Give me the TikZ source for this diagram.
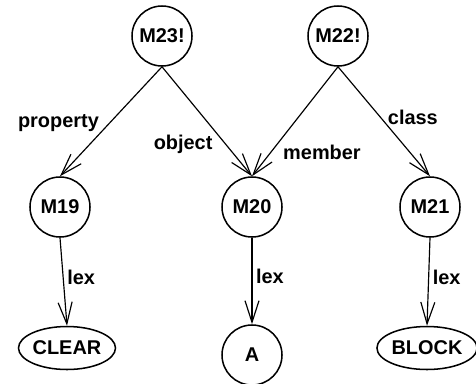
\documentclass[tikz,border=0pt]{standalone}
\usepackage{fontspec}
\setmainfont{Liberation Sans}
\usetikzlibrary{arrows.meta,shapes.geometric}

\tikzset{
  molnode/.style={circle,draw,line width=1.3pt,minimum size=1.8cm,inner sep=0pt},
  basenode/.style={ellipse,draw,line width=1.3pt,minimum height=1.29cm,inner sep=0pt},
  arc/.style={line width=1pt,-{Straight Barb[length=6.5mm,width=4.2mm,line width=1pt]}},
  arclabel/.style={inner sep=3pt}
}

\begin{document}
\begin{tikzpicture}[x=0.03cm,y=-0.03cm,font=\fontsize{17}{20}\selectfont\bfseries]
\useasboundingbox (0,0) rectangle (476,383);

% molecular nodes
\node[molnode] (m23) at (162,36) {M23!};
\node[molnode] (m22) at (338,36) {M22!};
\node[molnode] (m19) at (60,207) {M19};
\node[molnode] (m20) at (252,207) {M20};
\node[molnode] (m21) at (430,207) {M21};

% base nodes
\node[basenode,minimum width=2.6cm] (clear) at (67,348) {CLEAR};
\node[molnode] (a) at (252,355) {A};
\node[basenode,minimum width=2.85cm] (block) at (427,348) {BLOCK};

% arcs
\draw[arc] (m23.south) -- node[arclabel,pos=0.51,left=6pt] {property} (m19.north);
\draw[arc] (m23.south) -- node[arclabel,pos=0.71,left=8pt] {object} (m20.north);
\draw[arc] (m22.south) -- node[arclabel,pos=0.78,right=7pt] {member} (m20.north);
\draw[arc] (m22.south) -- node[arclabel,pos=0.46,right=3pt] {class} (m21.north);

\draw[arc] (m19.south) -- node[arclabel,pos=0.45,right] {lex} (clear.north);
\draw[arc] (m20.south) -- node[arclabel,pos=0.45,right] {lex} (a.north);
\draw[arc] (m21.south) -- node[arclabel,pos=0.45,right] {lex} (block.north);

\end{tikzpicture}
\end{document}
